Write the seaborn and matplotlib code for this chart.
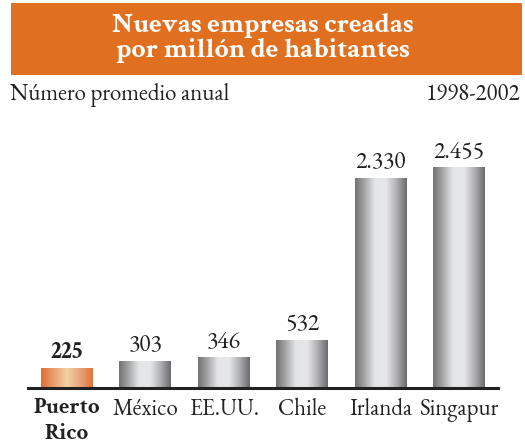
import numpy as np
import pandas as pd
import matplotlib
matplotlib.use("Agg")
import matplotlib.pyplot as plt
import seaborn as sns
from matplotlib import font_manager as fm
from matplotlib.colors import LinearSegmentedColormap
from matplotlib.patches import Rectangle

# ---- data ----
categories = ["Puerto\nRico", "México", "EE.UU.", "Chile", "Irlanda", "Singapur"]
values = [225, 303, 346, 532, 2330, 2455]
value_labels = ["225", "303", "346", "532", "2.330", "2.455"]
title_lines = ["Nuevas empresas creadas", "por millón de habitantes"]
subtitle_left = "Número promedio anual"
subtitle_right = "1998-2002"

sns.set_theme(style="white")
REG = ['EB Garamond', 'Liberation Serif', 'DejaVu Serif']
plt.rcParams['font.family'] = REG


def has_bold(name):
    for f in fm.fontManager.ttflist:
        if f.name == name and isinstance(f.weight, (int, float)) and f.weight >= 600 and f.style == "normal":
            return True
        if f.name == name and isinstance(f.weight, str) and f.weight in ("bold", "semibold", "demibold", "heavy", "extra bold", "black"):
            return True
    return False


BOLD_NAME = next((n for n in ['EB Garamond', 'Crimson Text', 'Cormorant Garamond',
                              'Crimson Pro', 'Liberation Serif'] if has_bold(n)), 'DejaVu Serif')
BOLD = [BOLD_NAME, 'DejaVu Serif']

fig = plt.figure(figsize=(5.25, 4.45), dpi=100)
W, H = 525, 445


def fx(px):
    return px / W


def fy(py):
    return 1 - py / H


# banner
fig.patches.append(Rectangle((fx(11), fy(75)), fx(522) - fx(11), fy(3) - fy(75),
                             transform=fig.transFigure, facecolor="#E07020",
                             edgecolor="none", zorder=0))
fig.text(fx(263), fy(32), title_lines[0], ha="center", va="baseline", color="white",
         fontsize=20, fontweight="bold", family=BOLD)
fig.text(fx(263), fy(57), title_lines[1], ha="center", va="baseline", color="white",
         fontsize=20, fontweight="bold", family=BOLD)
fig.text(fx(10), fy(100), subtitle_left, ha="left", va="baseline", fontsize=16.5,
         color="#222222", family=REG)
fig.text(fx(520), fy(100), subtitle_right, ha="right", va="baseline", fontsize=16.5,
         color="#222222", family=REG)

# axes
ax_left, ax_right = 28, 498
ax_top, ax_base = 130, 388
ax = fig.add_axes([fx(ax_left), fy(ax_base), fx(ax_right) - fx(ax_left), fy(ax_top) - fy(ax_base)])

df = pd.DataFrame({"pais": categories, "valor": values})
sns.barplot(data=df, x="pais", y="valor", ax=ax, width=0.663, color="gray", saturation=1)

px_per_unit = 221 / 2455.0
ymax = (ax_base - ax_top) / px_per_unit
xlim = (-0.497, 5.497)

gray_cmap = LinearSegmentedColormap.from_list("g", [
    (0.0, "#727272"), (0.18, "#a4a4a4"), (0.38, "#e4e5e7"), (0.6, "#e6e7e9"),
    (0.8, "#b0b0b2"), (1.0, "#6a6a6e")])
orange_cmap = LinearSegmentedColormap.from_list("o", [
    (0.0, "#E06E30"), (0.25, "#E8A070"), (0.5, "#F2D2A0"), (0.75, "#E8A47E"), (1.0, "#E07236")])

grad = np.linspace(0, 1, 256).reshape(1, -1)
for i, patch in enumerate(ax.patches):
    x0 = patch.get_x()
    w = patch.get_width()
    h = patch.get_height()
    cmap = orange_cmap if i == 0 else gray_cmap
    im = ax.imshow(grad, cmap=cmap, extent=[x0, x0 + w, 0, h], aspect="auto",
                   interpolation="bicubic", zorder=2)
    im.set_clip_path(patch)
    patch.set_facecolor("none")
    patch.set_edgecolor("none")
    ax.annotate(value_labels[i], (x0 + w / 2, h), xytext=(0, 7), textcoords="offset points",
                ha="center", va="baseline", fontsize=17,
                family=BOLD if i == 0 else REG,
                fontweight="bold" if i == 0 else "normal", color="#222222")

ax.set_xlim(*xlim)
ax.set_ylim(0, ymax)
ax.set_xlabel("")
ax.set_ylabel("")
ax.set_yticks([])
for s in ["top", "right", "left"]:
    ax.spines[s].set_visible(False)
ax.spines["bottom"].set_linewidth(2.2)
ax.spines["bottom"].set_color("#222222")
ax.tick_params(axis="x", length=0, pad=7, labelsize=16.5, colors="#222222")
for j, lab in enumerate(ax.get_xticklabels()):
    lab.set_linespacing(1.3)
    if j == 0:
        lab.set_family(BOLD)
        lab.set_fontweight("bold")
    else:
        lab.set_family(REG)
ax.set_facecolor("none")

fig.savefig("out.png", dpi=100, facecolor="white")
